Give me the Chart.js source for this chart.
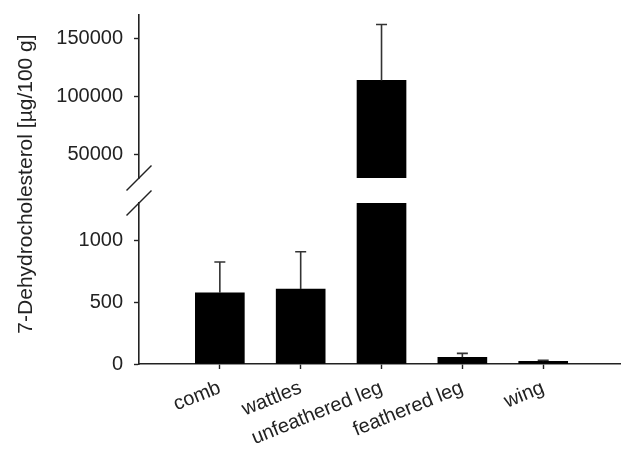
<!DOCTYPE html>
<html>
<head>
<meta charset="utf-8">
<script src="https://cdn.jsdelivr.net/npm/chart.js@4/dist/chart.umd.min.js"></script>
<style>
  html, body { margin: 0; padding: 0; background: #fff; }
  #wrap { width: 624px; height: 450px; }
</style>
</head>
<body>
<div id="wrap"><canvas id="c" width="624" height="450"></canvas></div>
<script>
// Tissue categories and 7-dehydrocholesterol content (µg/100 g), mean and SD
const categories = ['comb', 'wattles', 'unfeathered leg', 'feathered leg', 'wing'];
const means = [575, 605, 113800, 54, 22];
const sds = [248, 301, 48000, 32, 8];

// Broken y axis: lower and upper segments
const lowerRange = [0, 1300];
const upperRange = [30000, 170000];
const lowerTicks = [0, 500, 1000];
const upperTicks = [50000, 100000, 150000];
const yTitle = '7-Dehydrocholesterol [µg/100 g]';

const INK = '#222';
const FONT = '"Liberation Sans", Arial, sans-serif';

const points = categories.map((c, i) => ({ x: i + 1, y: means[i] }));

// Clip each dataset to its own y segment
const segmentClip = {
  id: 'segmentClip',
  beforeDatasetDraw(chart, args) {
    const meta = args.meta;
    const ys = meta.yScale, xs = meta.xScale;
    const ctx = chart.ctx;
    ctx.save();
    ctx.beginPath();
    ctx.rect(xs.left, ys.top, xs.right - xs.left, ys.bottom - ys.top);
    ctx.clip();
  },
  afterDatasetDraw(chart) {
    chart.ctx.restore();
  }
};

// Upward error bars (mean + SD)
const errorBars = {
  id: 'errorBars',
  afterDatasetsDraw(chart) {
    const ctx = chart.ctx;
    const xs = chart.scales.x;
    ctx.save();
    ctx.strokeStyle = '#333';
    ctx.lineWidth = 1.6;
    means.forEach((m, i) => {
      const ys = m > lowerRange[1] ? chart.scales.yUpper : chart.scales.yLower;
      const x = xs.getPixelForValue(i + 1);
      const y0 = ys.getPixelForValue(m);
      const y1 = ys.getPixelForValue(m + sds[i]);
      ctx.beginPath();
      ctx.moveTo(x, y0);
      ctx.lineTo(x, y1);
      ctx.moveTo(x - 5.5, y1);
      ctx.lineTo(x + 5.5, y1);
      ctx.stroke();
    });
    ctx.restore();
  }
};

// Diagonal break marks where the y axis is interrupted, plus the shared y title
const axisBreak = {
  id: 'axisBreak',
  afterDraw(chart) {
    const up = chart.scales.yUpper, lo = chart.scales.yLower;
    const x = lo.right;
    const ctx = chart.ctx;
    ctx.save();
    ctx.strokeStyle = INK;
    ctx.lineWidth = 1.4;
    [up.bottom, lo.top].forEach(y => {
      ctx.beginPath();
      ctx.moveTo(x - 12.5, y + 12.5);
      ctx.lineTo(x + 12.5, y - 12.5);
      ctx.stroke();
    });
    ctx.restore();

    ctx.save();
    ctx.translate(up.left + 26, up.top + 169);
    ctx.rotate(-Math.PI / 2);
    ctx.fillStyle = INK;
    ctx.font = '21px ' + FONT;
    ctx.textAlign = 'center';
    ctx.textBaseline = 'middle';
    ctx.fillText(yTitle, 0, 0);
    ctx.restore();
  }
};

// Fixed axis column width; no extra label padding above/below
const fixedWidth = s => { s.width = 139; s.paddingTop = 0; s.paddingBottom = 0; };

const yCommon = {
  type: 'linear',
  position: 'left',
  stack: 'v',
  afterFit: fixedWidth,
  grid: { drawOnChartArea: false, drawTicks: true, tickLength: 5, tickColor: INK, tickWidth: 1.4 },
  border: { display: true, color: INK, width: 1.6 },
  ticks: { color: INK, padding: 11, font: { family: FONT, size: 20 }, callback: v => String(v) }
};

new Chart(document.getElementById('c'), {
  type: 'bar',
  data: {
    datasets: [
      { data: points, yAxisID: 'yLower', backgroundColor: '#000', borderWidth: 0, barThickness: 49, clip: 0 },
      { data: points, yAxisID: 'yUpper', backgroundColor: '#000', borderWidth: 0, barThickness: 49, clip: 0 }
    ]
  },
  options: {
    responsive: false,
    animation: false,
    devicePixelRatio: 1,
    grouped: false,
    layout: { padding: { top: 15, right: 4, left: 0, bottom: 0 } },
    plugins: { legend: { display: false }, tooltip: { enabled: false } },
    scales: {
      x: {
        type: 'linear',
        offset: false,
        min: 0,
        max: 5.95,
        afterBuildTicks: s => { s.ticks = categories.map((c, i) => ({ value: i + 1 })); },
        afterFit: s => { s.height = 86; },
        grid: { offset: false, drawOnChartArea: false, drawTicks: true, tickLength: 5, tickColor: INK, tickWidth: 1.4 },
        border: { display: true, color: INK, width: 1.6 },
        ticks: {
          autoSkip: false,
          minRotation: 22,
          maxRotation: 22,
          padding: 7,
          color: INK,
          font: { family: FONT, size: 20 },
          callback: v => categories[v - 1]
        }
      },
      yUpper: Object.assign({}, yCommon, {
        weight: 3,
        stackWeight: 163,
        min: upperRange[0],
        max: upperRange[1],
        afterBuildTicks: s => { s.ticks = upperTicks.map(v => ({ value: v })); }
      }),
      yGap: {
        type: 'linear',
        position: 'left',
        stack: 'v',
        weight: 2,
        stackWeight: 25,
        afterFit: fixedWidth,
        grid: { display: false },
        border: { display: false },
        ticks: { display: false }
      },
      yLower: Object.assign({}, yCommon, {
        weight: 1,
        stackWeight: 161,
        min: lowerRange[0],
        max: lowerRange[1],
        afterBuildTicks: s => { s.ticks = lowerTicks.map(v => ({ value: v })); }
      })
    }
  },
  plugins: [segmentClip, errorBars, axisBreak]
});
</script>
</body>
</html>
